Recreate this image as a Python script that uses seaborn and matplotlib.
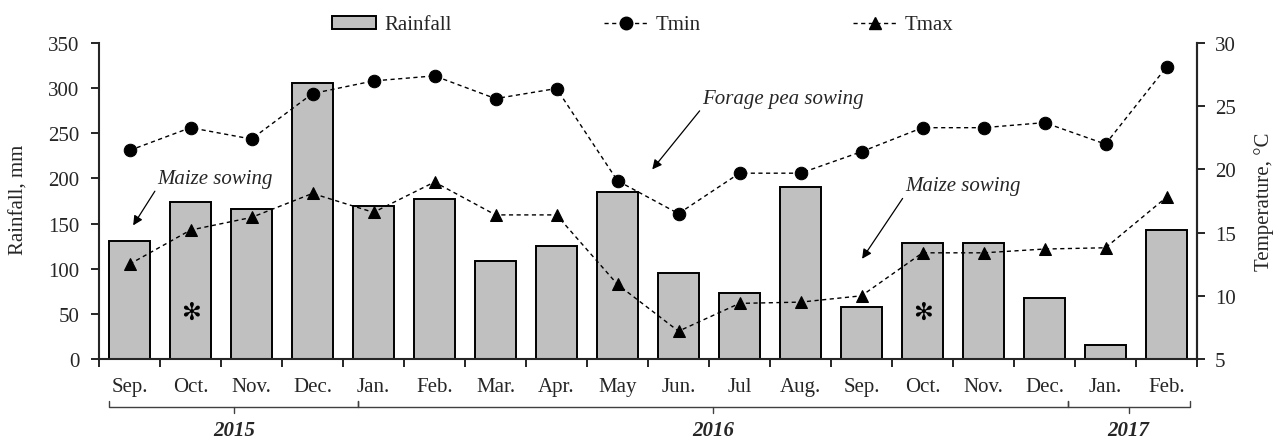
import numpy as np
import pandas as pd
import matplotlib.pyplot as plt
import seaborn as sns
from matplotlib.patches import Patch
from matplotlib.lines import Line2D

sns.set_style("ticks")
plt.rcParams['font.family'] = ['Liberation Serif', 'DejaVu Sans']
plt.rcParams['mathtext.fontset'] = 'stix'

# monthly data, Sep 2015 - Feb 2017
months = ['Sep.', 'Oct.', 'Nov.', 'Dec.', 'Jan.', 'Feb.', 'Mar.', 'Apr.', 'May',
          'Jun.', 'Jul', 'Aug.', 'Sep.', 'Oct.', 'Nov.', 'Dec.', 'Jan.', 'Feb.']
rainfall = [131, 174, 166, 306, 169, 177, 108, 125, 185,
            95, 73, 190, 58, 129, 129, 68, 16, 143]
tmin = [21.5, 23.3, 22.4, 26.0, 27.0, 27.4, 25.6, 26.4, 19.1,
        16.5, 19.7, 19.7, 21.4, 23.3, 23.3, 23.7, 22.0, 28.1]
tmax = [12.5, 15.2, 16.2, 18.1, 16.6, 19.0, 16.4, 16.4, 10.9,
        7.2, 9.4, 9.5, 10.0, 13.4, 13.4, 13.7, 13.8, 17.8]
years = ['2015', '2016', '2017']
bracket_edges = [-0.33, 3.75, 15.38, 17.38]

df = pd.DataFrame({'idx': np.arange(len(months)), 'Rainfall': rainfall,
                   'Tmin': tmin, 'Tmax': tmax})

FS = 15
fig = plt.figure(figsize=(12.74, 4.39), dpi=100)
ax = fig.add_axes([99 / 1274, 1 - 360 / 439, 1098 / 1274, 316 / 439])
ax2 = ax.twinx()

sns.barplot(data=df, x='idx', y='Rainfall', ax=ax, color='#c0c0c0', saturation=1,
            edgecolor='black', linewidth=1.4, width=0.67)
sns.lineplot(data=df, x='idx', y='Tmin', ax=ax2, color='black', marker='o',
             markersize=9, mfc='black', mec='black', linewidth=1,
             linestyle=(0, (3, 2.5)))
sns.lineplot(data=df, x='idx', y='Tmax', ax=ax2, color='black', marker='^',
             markersize=9, mfc='black', mec='black', linewidth=1,
             linestyle=(0, (3, 2.5)))

ax.set_xlim(-0.5, len(months) - 0.5)
ax.set_ylim(0, 350)
ax.set_yticks(range(0, 351, 50))
ax2.set_ylim(5, 30)
ax2.set_yticks(range(5, 31, 5))

ax.set_xticks(np.arange(len(months)))
ax.set_xticklabels(months)
ax.set_xticks(np.arange(len(months) + 1) - 0.5, minor=True)
ax.tick_params(axis='x', which='major', length=0, pad=13, labelsize=FS)
ax.tick_params(axis='x', which='minor', length=6, width=1.4, direction='out')
ax.tick_params(axis='y', length=6, width=1.4, pad=8, labelsize=FS)
ax2.tick_params(axis='y', length=6, width=1.4, pad=7, labelsize=FS)

ax.set_xlabel('')
ax.set_ylabel('')
ax2.set_ylabel('')
for a in (ax, ax2):
    a.spines['top'].set_visible(False)
    for s in a.spines.values():
        s.set_linewidth(1.5)
ax2.spines['left'].set_visible(False)
ax2.spines['bottom'].set_visible(False)

fig.text(19 / 1274, 1 - 200 / 439, 'Rainfall, mm', rotation=90,
         ha='center', va='center', fontsize=FS)
fig.text(1254 / 1274, 1 - 202 / 439, 'Temperature, °C', rotation=90,
         ha='left', va='center', fontsize=FS)

# legend
handles = [Patch(facecolor='#c0c0c0', edgecolor='black', linewidth=1.4),
           Line2D([], [], color='black', marker='o', markersize=9,
                  linestyle=(0, (3, 2.5)), linewidth=1),
           Line2D([], [], color='black', marker='^', markersize=9,
                  linestyle=(0, (3, 2.5)), linewidth=1)]
fig.legend(handles, ['Rainfall', 'Tmin', 'Tmax'], ncol=3, frameon=False,
           loc='center', bbox_to_anchor=(643 / 1274, 1 - 26 / 439),
           fontsize=FS, handlelength=2.1, handleheight=0.6,
           handletextpad=0.4, columnspacing=7.3)

# sowing annotations
arrow = dict(arrowstyle='-|>', color='black', lw=0.9, shrinkA=0, shrinkB=0,
             mutation_scale=14, relpos=(0, 0))
ax.annotate('Maize sowing', xy=(0.06, 148), xytext=(0.45, 200),
            ha='left', va='center', fontsize=FS, style='italic',
            arrowprops=arrow)
ax.annotate('Forage pea sowing', xy=(8.57, 210), xytext=(9.39, 289),
            ha='left', va='center', fontsize=FS, style='italic',
            arrowprops=arrow)
ax.annotate('Maize sowing', xy=(12.01, 111), xytext=(12.71, 192),
            ha='left', va='center', fontsize=FS, style='italic',
            arrowprops=arrow)
for i in (1, 13):
    ax.text(i, 52, '\u273b', ha='center', va='center', fontsize=17,
            family='DejaVu Sans', color='black')

# year brackets
tr = ax.get_xaxis_transform()
y_base, y_up, y_down, y_txt = -0.152, -0.133, -0.172, -0.225
for k, yr in enumerate(years):
    x0, x1 = bracket_edges[k], bracket_edges[k + 1]
    xm = (x0 + x1) / 2
    ax.plot([x0, x0, x1, x1], [y_up, y_base, y_base, y_up], transform=tr,
            color='#404040', lw=1, clip_on=False)
    ax.plot([xm, xm], [y_base, y_down], transform=tr, color='#404040',
            lw=1, clip_on=False)
    ax.text(xm, y_txt, yr, transform=tr, ha='center', va='center',
            fontsize=FS, fontweight='bold', style='italic')

fig.savefig('out.png', dpi=100)
